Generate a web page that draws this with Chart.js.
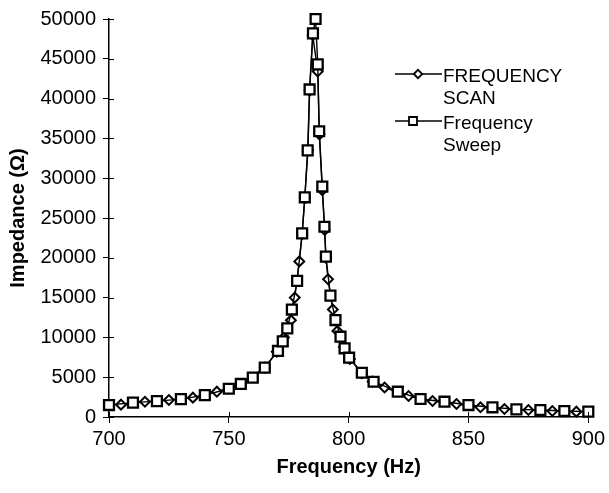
<!DOCTYPE html>
<html>
<head>
<meta charset="utf-8">
<script src="https://cdn.jsdelivr.net/npm/chart.js@4.4.1/dist/chart.umd.min.js"></script>
<style>
  html, body { margin: 0; padding: 0; background: #fff; }
  canvas { display: block; }
</style>
</head>
<body>
<canvas id="chart" width="609" height="493"></canvas>
<script>
// FREQUENCY SCAN (diamonds)
const scanFreq = [705, 715, 725, 735, 745, 755, 765, 770, 773, 775.9, 777.5, 779.4, 780.6, 781.7, 783, 783.7, 785, 787.1, 787.8, 789, 790, 790.5, 791.4, 793.4, 795.3, 798, 800.5, 805.5, 810, 815, 825, 835, 845, 855, 865, 875, 885, 895]
const scanImp = [1550, 1920, 2130, 2430, 3180, 4150, 6200, 8200, 10000, 12150, 15000, 19550, 23000, 27500, 33500, 41000, 48000, 43400, 35500, 28500, 23500, 20000, 17300, 13500, 10800, 8800, 7300, 5500, 4450, 3700, 2640, 2010, 1630, 1220, 1000, 880, 750, 670]

// Frequency Sweep (squares)
const sweepFreq = [700, 710, 720, 730, 740, 750, 755, 760, 765, 770.5, 772.5, 774.4, 776.3, 778.5, 780.6, 781.7, 782.9, 783.7, 785.1, 786.2, 787.1, 787.7, 789, 789.9, 790.5, 792.4, 794.5, 796.6, 798.3, 800.2, 805.5, 810.4, 820.5, 830, 840, 850, 860, 870, 880, 890, 900]
const sweepImp = [1500, 1800, 2000, 2250, 2750, 3550, 4150, 4950, 6200, 8300, 9500, 11140, 13500, 17100, 23070, 27600, 33500, 41150, 48200, 50000, 44300, 35900, 28950, 23900, 20150, 15250, 12180, 10090, 8630, 7450, 5560, 4430, 3180, 2260, 1920, 1500, 1220, 960, 880, 750, 670]

const seriesLabels = [["FREQUENCY", "SCAN"], ["Frequency", "Sweep"]]

const xTicks = [700, 750, 800, 850, 900]
const yMax = 50000
const yStep = 5000

const FONT = "'Liberation Sans', Arial, Helvetica, sans-serif"

Chart.defaults.color = "#000"
Chart.defaults.font.family = FONT

const toPoints = (xs, ys) => xs.map((x, i) => ({ x, y: ys[i] }))

// ticks in the original cross the axis, Chart.js only draws the outer half
const innerTicks = {
  id: "innerTicks",
  afterDraw(chart) {
    const { ctx, chartArea, scales } = chart
    ctx.save()
    ctx.strokeStyle = "#000"
    ctx.lineWidth = 1
    ctx.beginPath()
    scales.x.ticks.forEach(t => {
      const px = Math.round(scales.x.getPixelForValue(t.value)) + 0.5
      ctx.moveTo(px, chartArea.bottom)
      ctx.lineTo(px, chartArea.bottom - 5)
    })
    scales.y.ticks.forEach(t => {
      const py = Math.round(scales.y.getPixelForValue(t.value)) + 0.5
      ctx.moveTo(chartArea.left, py)
      ctx.lineTo(chartArea.left + 5, py)
    })
    ctx.stroke()
    ctx.restore()
  }
}

// legend at the right: line - marker - line, label over two lines
const sideLegend = {
  id: "sideLegend",
  afterDraw(chart) {
    const ctx = chart.ctx
    ctx.save()
    chart.data.datasets.forEach((ds, i) => {
      const y = 74 + i * 47
      const x0 = 395, x1 = 442
      const mx = i === 0 ? 418 : 413
      ctx.strokeStyle = "#000"
      ctx.lineWidth = 1.3
      ctx.beginPath()
      ctx.moveTo(x0, y)
      ctx.lineTo(x1, y)
      ctx.stroke()

      ctx.fillStyle = "#fff"
      ctx.lineWidth = 1.8
      ctx.beginPath()
      if (ds.pointStyle === "rectRot") {
        const r = 4.2
        ctx.moveTo(mx - r, y)
        ctx.lineTo(mx, y - r)
        ctx.lineTo(mx + r, y)
        ctx.lineTo(mx, y + r)
        ctx.closePath()
      } else {
        const s = 4
        ctx.rect(mx - s, y - s, 2 * s, 2 * s)
      }
      ctx.fill()
      ctx.stroke()

      ctx.fillStyle = "#000"
      ctx.font = "19px " + FONT
      ctx.textBaseline = "alphabetic"
      ctx.textAlign = "left"
      seriesLabels[i].forEach((line, j) => {
        ctx.fillText(line, 443, y + 7.5 + j * 22)
      })
    })
    ctx.restore()
  }
}

const baseDataset = {
  showLine: true,
  clip: false,
  borderColor: "#000",
  borderWidth: 1.4,
  pointBackgroundColor: "#fff",
  pointBorderColor: "#000",
  tension: 0,
}

new Chart(document.getElementById("chart"), {
  type: "scatter",
  data: {
    datasets: [
      {
        ...baseDataset,
        label: seriesLabels[0].join(" "),
        data: toPoints(scanFreq, scanImp),
        pointStyle: "rectRot",
        pointRadius: 4.9,
        pointBorderWidth: 2,
        order: 2,
      },
      {
        ...baseDataset,
        label: seriesLabels[1].join(" "),
        data: toPoints(sweepFreq, sweepImp),
        pointStyle: "rect",
        pointRadius: 7,
        pointBorderWidth: 2.3,
        order: 1,
      }
    ]
  },
  options: {
    responsive: false,
    animation: false,
    events: [],
    layout: { padding: { top: 19, right: 18, left: 0, bottom: 0 } },
    plugins: {
      legend: { display: false },
      tooltip: { enabled: false }
    },
    scales: {
      x: {
        type: "linear",
        min: xTicks[0],
        max: xTicks[xTicks.length - 1],
        afterFit: (scale) => { scale.height = 76 },
        afterBuildTicks: (scale) => { scale.ticks = xTicks.map(v => ({ value: v })) },
        ticks: {
          font: { size: 20 },
          padding: 4,
          maxRotation: 0,
          callback: (v) => `${v}`
        },
        grid: { drawOnChartArea: false, tickLength: 6, color: "#000", lineWidth: 1 },
        border: { color: "#000", width: 1.5 },
        title: {
          display: true,
          text: "Frequency (Hz)",
          font: { size: 20, weight: "bold" },
          padding: { top: 0, bottom: 14 }
        }
      },
      y: {
        min: 0,
        max: yMax,
        afterFit: (scale) => { scale.width = 109 },
        ticks: {
          stepSize: yStep,
          font: { size: 20 },
          padding: 7,
          callback: (v) => `${v}`
        },
        grid: { drawOnChartArea: false, tickLength: 6, color: "#000", lineWidth: 1 },
        border: { color: "#000", width: 1.5 },
        title: {
          display: true,
          text: "Impedance (Ω)",
          font: { size: 20, weight: "bold" },
          padding: { top: 6, bottom: 0 }
        }
      }
    }
  },
  plugins: [innerTicks, sideLegend]
})
</script>
</body>
</html>
